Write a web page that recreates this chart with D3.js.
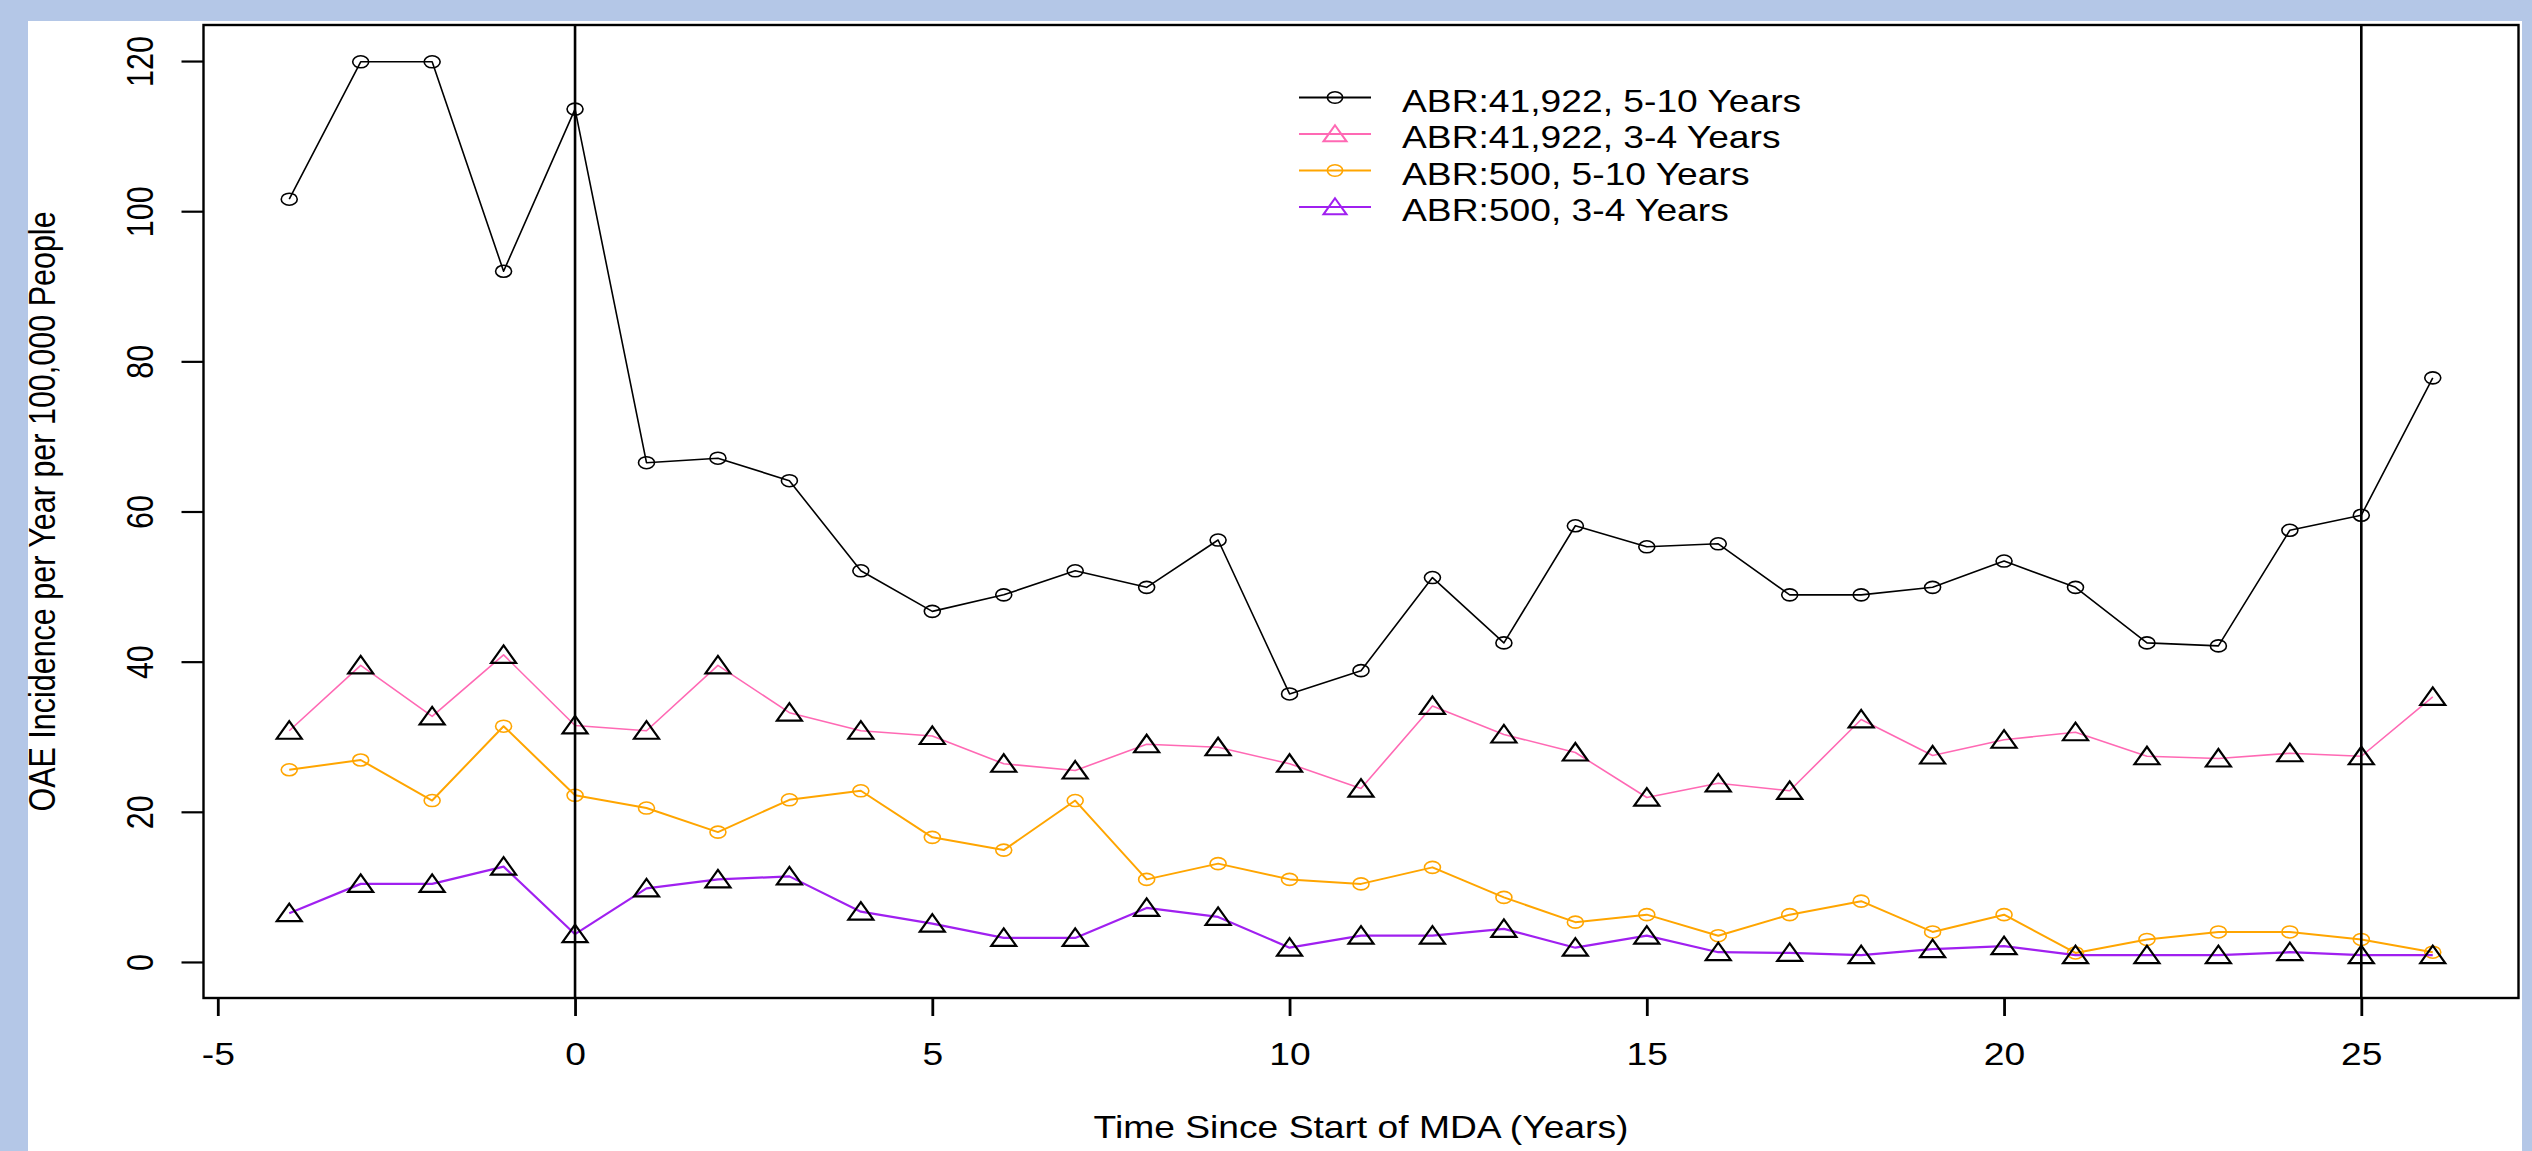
<!DOCTYPE html>
<html>
<head>
<meta charset="utf-8">
<script src="https://cdn.jsdelivr.net/npm/d3@7"></script>
<style>
html, body { margin: 0; padding: 0; background: #b4c7e7; overflow: hidden; }
svg { display: block; }
</style>
</head>
<body>
<script>

// values, one per year since start of MDA
var years = [-4, -3, -2, -1, 0, 1, 2, 3, 4, 5, 6, 7, 8, 9, 10, 11, 12, 13, 14, 15,
             16, 17, 18, 19, 20, 21, 22, 23, 24, 25, 26];

var abr41922_5to10 = [101.6, 119.9, 119.9, 92.0, 113.6, 66.5, 67.1, 64.1, 52.1, 46.7,
                      48.9, 52.1, 49.9, 56.2, 35.7, 38.8, 51.2, 42.5, 58.1, 55.3,
                      55.7, 48.9, 48.9, 49.9, 53.4, 49.9, 42.5, 42.1, 57.5, 59.5, 77.8];

var abr41922_3to4 = [30.8, 39.5, 32.7, 40.9, 31.5, 30.8, 39.5, 33.2, 30.8, 30.1,
                     26.4, 25.5, 29.0, 28.6, 26.4, 23.1, 34.1, 30.3, 27.9, 21.9,
                     23.8, 22.8, 32.3, 27.5, 29.6, 30.6, 27.4, 27.1, 27.8, 27.4, 35.3];

var abr500_5to10 = [25.6, 26.9, 21.5, 31.4, 22.2, 20.5, 17.3, 21.6, 22.8, 16.6,
                    14.9, 21.5, 11.0, 13.1, 11.0, 10.4, 12.6, 8.6, 5.3, 6.3,
                    3.5, 6.3, 8.1, 4.0, 6.3, 1.2, 3.0, 4.0, 4.0, 3.0, 1.3];

var abr500_3to4 = [6.5, 10.4, 10.4, 12.7, 3.7, 9.8, 11.0, 11.4, 6.7, 5.1,
                   3.2, 3.2, 7.2, 6.0, 1.9, 3.5, 3.5, 4.4, 1.9, 3.5,
                   1.3, 1.2, 0.9, 1.7, 2.1, 0.9, 0.9, 0.9, 1.3, 0.9, 0.9];

var legendLabels = ["ABR:41,922, 5-10 Years", "ABR:41,922, 3-4 Years",
                    "ABR:500, 5-10 Years", "ABR:500, 3-4 Years"];

var xTicks = [-5, 0, 5, 10, 15, 20, 25];
var yTicks = [0, 20, 40, 60, 80, 100, 120];
var refYears = [0, 25];   // vertical marker lines

var xTitle = "Time Since Start of MDA (Years)";
var yTitle = "OAE Incidence per Year per 100,000 People";

var W = 2532, H = 1151;
var box = { left: 203.5, right: 2518.5, top: 25, bottom: 998 };
var sx = 1.22;          // the picture is stretched sideways, text too
var fs = 30.5;
var font = "'Liberation Sans', Arial, Helvetica, sans-serif";

var series = [
    { values: abr41922_5to10, color: "#000000", mark: "circle",   markColor: "#000000", lw: 1.6 },
    { values: abr41922_3to4,  color: "#ff69b4", mark: "triangle", markColor: "#000000", lw: 1.6 },
    { values: abr500_5to10,   color: "#ffa500", mark: "circle",   markColor: "#ffa500", lw: 2.0 },
    { values: abr500_3to4,    color: "#a020f0", mark: "triangle", markColor: "#000000", lw: 2.2 }
];

var svg = d3.select("body").append("svg")
        .attr("width", W)
        .attr("height", H);

svg.append("rect")
        .attr("width", W)
        .attr("height", H)
        .attr("fill", "#b4c7e7");

svg.append("rect")
        .attr("x", 28)
        .attr("y", 21)
        .attr("width", 2522 - 28)
        .attr("height", H - 21)
        .attr("fill", "#ffffff");

var x = d3.scaleLinear().domain([-5.2, 27.2]).range([box.left, box.right]);
var y = d3.scaleLinear().domain([-4.8, 124.8]).range([box.bottom, box.top]);

function drawMark(g, kind, cx, cy, color, size) {
    if (kind === "circle") {
        g.append("ellipse")
            .attr("cx", cx).attr("cy", cy)
            .attr("rx", 8 * size).attr("ry", 6 * size)
            .attr("fill", "none")
            .attr("stroke", color)
            .attr("stroke-width", 1.6);
    } else {
        g.append("path")
            .attr("d", "M0,-9.5L12.5,8L-12.5,8Z")
            .attr("transform", "translate(" + cx + "," + cy + ") scale(" + size + ")")
            .attr("fill", "none")
            .attr("stroke", color)
            .attr("stroke-width", 2.2)
            .attr("stroke-linejoin", "miter");
    }
}

// axes (d3 sets its own font on the group, so restyle after the call)
var xAxis = d3.axisBottom(x).tickValues(xTicks).tickSize(18).tickFormat(String);
var gx = svg.append("g")
        .attr("transform", "translate(0," + box.bottom + ")")
        .call(xAxis)
        .attr("font-family", font)
        .attr("font-size", fs);
gx.select(".domain").remove();
gx.selectAll(".tick line").attr("stroke", "#000").attr("stroke-width", 2.8);
gx.selectAll(".tick text")
        .attr("y", null).attr("dy", null)
        .attr("fill", "#000")
        .attr("transform", "translate(0,67) scale(" + sx + ",1)");

var yAxis = d3.axisLeft(y).tickValues(yTicks).tickSize(22).tickFormat(String);
var gy = svg.append("g")
        .attr("transform", "translate(" + box.left + ",0)")
        .call(yAxis)
        .attr("font-family", font)
        .attr("font-size", fs);
gy.select(".domain").remove();
gy.selectAll(".tick line").attr("stroke", "#000").attr("stroke-width", 2.2);
gy.selectAll(".tick text")
        .attr("x", null).attr("dy", null)
        .attr("fill", "#000")
        .attr("text-anchor", "middle")
        .attr("transform", "translate(-51,0) scale(" + sx + ",1) rotate(-90)");

// plot frame
svg.append("rect")
        .attr("x", box.left)
        .attr("y", box.top)
        .attr("width", box.right - box.left)
        .attr("height", box.bottom - box.top)
        .attr("fill", "none")
        .attr("stroke", "#000")
        .attr("stroke-width", 2.4);

// series
var line = d3.line()
        .x(function(d, i) { return x(years[i]); })
        .y(function(d) { return y(d); });

var plot = svg.append("g").attr("class", "series");
series.forEach(function(s) {
    plot.append("path")
        .datum(s.values)
        .attr("d", line)
        .attr("fill", "none")
        .attr("stroke", s.color)
        .attr("stroke-width", s.lw)
        .attr("stroke-linejoin", "round");
    s.values.forEach(function(v, i) {
        drawMark(plot, s.mark, x(years[i]), y(v), s.markColor, 1);
    });
});

// vertical reference lines
svg.selectAll("line.ref").data(refYears).enter()
    .append("line")
        .attr("class", "ref")
        .attr("x1", function(d) { return x(d); })
        .attr("x2", function(d) { return x(d); })
        .attr("y1", box.top)
        .attr("y2", box.bottom)
        .attr("stroke", "#000")
        .attr("stroke-width", 2.6);

// legend (no box)
var legend = svg.append("g").attr("class", "legend");
legendLabels.forEach(function(label, i) {
    var ly = 97.5 + i * 36.5;
    var s = series[i];
    legend.append("line")
        .attr("x1", 1299).attr("x2", 1371)
        .attr("y1", ly).attr("y2", ly)
        .attr("stroke", s.color)
        .attr("stroke-width", 1.8);
    drawMark(legend, s.mark, 1335, ly, s.color, s.mark === "circle" ? 0.95 : 0.92);
    legend.append("text")
        .attr("transform", "translate(1402," + (ly + 14) + ") scale(" + sx + ",1)")
        .attr("font-family", font)
        .attr("font-size", fs)
        .attr("fill", "#000")
        .text(label);
});

// axis titles
svg.append("text")
        .attr("transform", "translate(" + ((box.left + box.right) / 2) + ",1138) scale(" + sx + ",1)")
        .attr("text-anchor", "middle")
        .attr("font-family", font)
        .attr("font-size", fs)
        .attr("fill", "#000")
        .text(xTitle);

svg.append("text")
        .attr("transform", "translate(55," + ((box.top + box.bottom) / 2) + ") scale(" + sx + ",1) rotate(-90)")
        .attr("text-anchor", "middle")
        .attr("font-family", font)
        .attr("font-size", fs)
        .attr("fill", "#000")
        .text(yTitle);

</script>
</body>
</html>
